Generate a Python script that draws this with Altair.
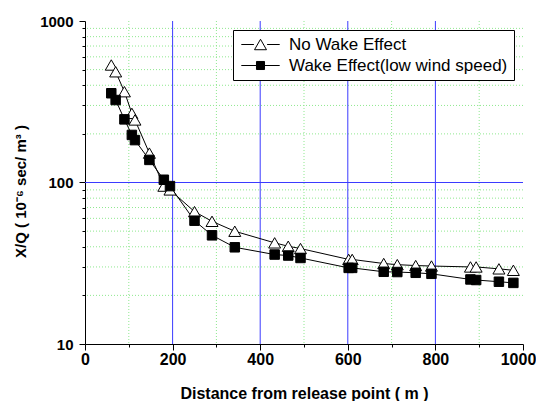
import altair as alt
import pandas as pd

# ---- data ----
distance = [60, 70, 90, 107, 114, 147, 180, 194, 250, 290, 342, 433, 464, 492,
            602, 610, 682, 713, 755, 791, 880, 893, 945, 978]
no_wake = [534, 485, 365, 268, 244, 152, 95, 90, 66, 57.5, 49.9, 42.3, 40.3, 39.0,
           33.4, 33.4, 31.5, 31.0, 30.6, 30.4, 30.0, 30.0, 29.2, 28.6]
wake = [357, 324, 246, 197, 183, 138, 104, 95, 58, 47.1, 39.7, 35.8, 35.3, 34.1,
        29.6, 29.6, 28.0, 27.9, 27.6, 27.2, 25.1, 24.9, 24.3, 23.9]
series_names = ["No Wake Effect", "Wake Effect(low wind speed)"]
x_ticks = list(range(0, 1001, 100))
y_ticks = [10, 20, 30, 40, 50, 60, 70, 80, 90, 100, 200, 300, 400, 500, 600, 700, 800, 900, 1000]
x_grid_major = [200, 400, 600, 800]
x_grid_minor = [100, 300, 500, 700, 900]
y_grid_major = [100]
y_grid_minor = [20, 30, 40, 50, 60, 70, 80, 90, 200, 300, 400, 500, 600, 700, 800, 900]

rows = []
for d, v in zip(distance, no_wake):
    rows.append({"dist": d, "xq": v, "series": series_names[0]})
for d, v in zip(distance, wake):
    rows.append({"dist": d, "xq": v, "series": series_names[1]})
df = pd.DataFrame(rows)

FONT = "Liberation Sans"
BLUE = "#3b3bff"
GREEN = "#8fe88f"

x_major = "datum.value % 200 == 0"
y_major = "datum.value == 10 || datum.value == 100 || datum.value == 1000"

x_scale = alt.Scale(domain=[0, 1000], nice=False, zero=False)
y_scale = alt.Scale(type="log", domain=[10, 1000], nice=False)

x_axis = alt.Axis(
    values=x_ticks,
    title="Distance from release point ( m )",
    titleFont=FONT, titleFontSize=16, titleFontWeight="bold", titleColor="black",
    titleY=54, titleBaseline="alphabetic",
    labelFont=FONT, labelFontSize=16, labelFontWeight="bold", labelColor="black",
    labelExpr=f"{x_major} ? '' + datum.value : ''",
    labelOverlap=False, labelFlush=False, labelPadding=1,
    labelOffset={"condition": {"test": "datum.value == 1000", "value": -5}, "value": 0},
    tickColor="black", tickWidth=1,
    tickSize={"condition": {"test": x_major, "value": 6}, "value": 3},
    domainColor="black", domainWidth=1,
    grid=False,
)

y_axis = alt.Axis(
    values=y_ticks,
    title="X/Q ( 10⁻⁶ sec/ m³ )",
    titleFont=FONT, titleFontSize=15, titleFontWeight="bold", titleColor="black",
    titleX=-57, titleY=170, titleBaseline="bottom",
    labelFont=FONT, labelFontSize=15, labelFontWeight="bold", labelColor="black",
    labelExpr=f"{y_major} ? '' + datum.value : ''",
    labelOverlap=False, labelFlush=False, labelPadding=6,
    tickColor="black", tickWidth=1,
    tickSize={"condition": {"test": y_major, "value": 6}, "value": 3},
    domainColor="black", domainWidth=1,
    grid=False,
)

x_enc = alt.X("dist:Q", scale=x_scale, axis=x_axis)
y_enc = alt.Y("xq:Q", scale=y_scale, axis=y_axis)

# ---- grid lines drawn as rules through the same scales ----
gx_minor = alt.Chart(pd.DataFrame({"dist": x_grid_minor})).mark_rule(
    color=GREEN, strokeWidth=1, strokeDash=[1, 2]
).encode(x=x_enc)
gy_minor = alt.Chart(pd.DataFrame({"xq": y_grid_minor})).mark_rule(
    color=GREEN, strokeWidth=1, strokeDash=[1, 2]
).encode(y=y_enc)
gx_major = alt.Chart(pd.DataFrame({"dist": x_grid_major})).mark_rule(
    color=BLUE, strokeWidth=1
).encode(x=x_enc)
gy_major = alt.Chart(pd.DataFrame({"xq": y_grid_major})).mark_rule(
    color=BLUE, strokeWidth=1
).encode(y=y_enc)

# legend symbols: short line, marker, short line
tri_path = "M-3.2,0L-1.1,0M1.1,0L3.2,0M0,-0.87L1,0.87L-1,0.87Z"
sq_path = "M-3.2,0L-0.75,0M0.75,0L3.2,0M-0.67,-0.67L0.67,-0.67L0.67,0.67L-0.67,0.67Z"

legend = alt.Legend(
    title=None, orient="none", legendX=148, legendY=9, direction="vertical",
    labelFont=FONT, labelFontSize=17, labelColor="black", labelLimit=400,
    padding=6, strokeColor="black", fillColor="white",
    symbolSize=144, symbolOffset=13, labelOffset=20, rowPadding=3,
    symbolStrokeColor="black", symbolStrokeWidth=1, symbolOpacity=1,
)

base = alt.Chart(df)

lines = base.mark_line(color="black", strokeWidth=1).encode(
    x=x_enc, y=y_enc, detail="series:N"
)

points = base.mark_point(filled=False, stroke="black", strokeWidth=1, opacity=1).encode(
    x=x_enc,
    y=y_enc,
    shape=alt.Shape("series:N", scale=alt.Scale(domain=series_names, range=["triangle-up", "square"]),
                    legend=None),
    fill=alt.Fill("series:N", scale=alt.Scale(domain=series_names, range=["white", "black"]), legend=None),
    size=alt.Size("series:N", scale=alt.Scale(domain=series_names, range=[144, 90]), legend=None),
    order=alt.Order("series:N"),
)

# hidden layer (placed outside the clipped plot) that only supplies the legend
legend_layer = alt.Chart(
    pd.DataFrame({"series": series_names, "dist": [-500, -500], "xq": [100, 100]})
).mark_point(filled=False, strokeWidth=1, clip=True).encode(
    x=x_enc,
    y=y_enc,
    shape=alt.Shape("series:N", scale=alt.Scale(domain=series_names, range=[tri_path, sq_path]), legend=legend),
    fill=alt.Fill("series:N", scale=alt.Scale(domain=series_names, range=["white", "black"]), legend=legend),
    stroke=alt.Stroke("series:N", scale=alt.Scale(domain=series_names, range=["black", "black"]), legend=legend),
)

chart = alt.layer(gx_minor, gy_minor, gx_major, gy_major, lines, points, legend_layer).resolve_scale(
    shape="independent", fill="independent", stroke="independent"
).properties(
    width=438, height=323,
    autosize=alt.AutoSizeParams(type="none"),
    padding={"left": 77, "top": 13, "right": 13, "bottom": 58},
    background="white",
).configure_view(stroke=None)

chart.save("out.html", embed_options={"renderer": "svg", "actions": False})
